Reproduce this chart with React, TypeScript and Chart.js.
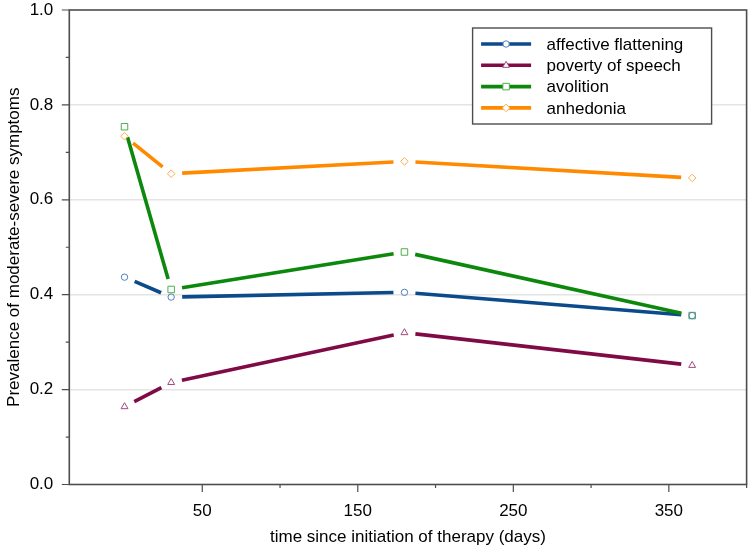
import React, { useEffect, useRef } from "react";
import { Chart, registerables } from "chart.js";
import { drawPoint } from "chart.js/helpers";

Chart.register(...registerables);

// ---- data ----
const days = [0, 30, 180, 365];
const seriesNames = ["affective flattening", "poverty of speech", "avolition", "anhedonia"];
const affectiveFlattening = [0.437, 0.395, 0.405, 0.356];
const povertyOfSpeech = [0.164, 0.215, 0.32, 0.251];
const avolition = [0.754, 0.411, 0.49, 0.356];
const anhedonia = [0.734, 0.655, 0.681, 0.646];
const xTickValues = [50, 150, 250, 350];
const xMinorTickValues = [100, 200, 300, 400];
const yTickValues = [0, 0.2, 0.4, 0.6, 0.8, 1.0];
const yMinorTickValues = [0.1, 0.3, 0.5, 0.7, 0.9];
const xTitle = "time since initiation of therapy (days)";
const yTitle = "Prevalence of moderate-severe symptoms";

// ---- styles ----
const lineColors = ["#0b4a8b", "#7f0a45", "#0c890c", "#ff8a00"];
const markerColors = ["#4f7fbd", "#a04a7c", "#4caf4c", "#ffab4a"];
const pointStyles = ["circle", "triangle", "rect", "rectRot"];
const pointRadii = [3.2, 4, 4.6, 3.8];
const FONT = "'Liberation Sans', Arial, sans-serif";
const GAP = 11;
const LINE_W = 3.6;
const FRAME = "#4d4d4d";

const seriesValues = [affectiveFlattening, povertyOfSpeech, avolition, anhedonia];

const framePlugin = {
  id: "framePlugin",
  beforeDatasetsDraw(chart: any) {
    const ctx = chart.ctx;
    const a = chart.chartArea;
    ctx.save();
    ctx.beginPath();
    ctx.rect(a.left, a.top, a.right - a.left, a.bottom - a.top);
    ctx.clip();
    ctx.lineWidth = LINE_W;
    ctx.lineCap = "butt";
    chart.data.datasets.forEach((_ds: any, i: number) => {
      const pts = chart.getDatasetMeta(i).data;
      ctx.strokeStyle = lineColors[i];
      for (let k = 0; k < pts.length - 1; k++) {
        const p = pts[k];
        const q = pts[k + 1];
        const dx = q.x - p.x;
        const dy = q.y - p.y;
        const d = Math.hypot(dx, dy);
        if (d <= 2 * GAP) continue;
        const ux = dx / d;
        const uy = dy / d;
        ctx.beginPath();
        ctx.moveTo(p.x + ux * GAP, p.y + uy * GAP);
        ctx.lineTo(q.x - ux * GAP, q.y - uy * GAP);
        ctx.stroke();
      }
    });
    ctx.restore();
  },
  afterDraw(chart: any) {
    const ctx = chart.ctx;
    const a = chart.chartArea;
    const xs = chart.scales.x;
    const ys = chart.scales.y;
    ctx.save();
    // frame
    ctx.strokeStyle = FRAME;
    ctx.lineWidth = 1.6;
    ctx.strokeRect(a.left, a.top, a.right - a.left, a.bottom - a.top);
    // ticks
    ctx.lineWidth = 1.2;
    ctx.beginPath();
    xTickValues.forEach((v) => {
      const x = xs.getPixelForValue(v);
      ctx.moveTo(x, a.bottom);
      ctx.lineTo(x, a.bottom + 7.5);
    });
    xMinorTickValues.forEach((v) => {
      const x = xs.getPixelForValue(v);
      ctx.moveTo(x, a.bottom);
      ctx.lineTo(x, a.bottom + 3.5);
    });
    yTickValues.forEach((v) => {
      const y = ys.getPixelForValue(v);
      ctx.moveTo(a.left, y);
      ctx.lineTo(a.left - 7.5, y);
    });
    yMinorTickValues.forEach((v) => {
      const y = ys.getPixelForValue(v);
      ctx.moveTo(a.left, y);
      ctx.lineTo(a.left - 3.5, y);
    });
    ctx.stroke();

    // legend
    const bw = 239;
    const bh = 96;
    const bx = a.right - 35 - bw;
    const by = a.top + 18;
    ctx.fillStyle = "#ffffff";
    ctx.fillRect(bx, by, bw, bh);
    ctx.strokeStyle = FRAME;
    ctx.lineWidth = 1.4;
    ctx.strokeRect(bx, by, bw, bh);
    ctx.font = `17px ${FONT}`;
    ctx.textBaseline = "middle";
    ctx.textAlign = "left";
    seriesNames.forEach((name, i) => {
      const cy = by + 16 + i * 21.3;
      const x0 = bx + 8.5;
      const x1 = x0 + 50;
      ctx.strokeStyle = lineColors[i];
      ctx.lineWidth = LINE_W;
      ctx.lineCap = "butt";
      ctx.beginPath();
      ctx.moveTo(x0, cy);
      ctx.lineTo(x1, cy);
      ctx.stroke();
      ctx.fillStyle = "#ffffff";
      ctx.strokeStyle = markerColors[i];
      ctx.lineWidth = 1;
      drawPoint(ctx, { pointStyle: pointStyles[i], radius: pointRadii[i], rotation: 0, borderWidth: 1 } as any, (x0 + x1) / 2, cy);
      ctx.fillStyle = "#000000";
      ctx.fillText(name, bx + 74, cy + 1);
    });
    ctx.restore();
  },
};

export default function App() {
  const ref = useRef<HTMLCanvasElement | null>(null);
  useEffect(() => {
    if (!ref.current) return;
    const chart = new Chart(ref.current, {
      type: "line",
      data: {
        datasets: seriesNames.map((name, i) => ({
          label: name,
          data: days.map((d, k) => ({ x: d, y: seriesValues[i][k] })),
          showLine: false,
          pointStyle: pointStyles[i] as any,
          pointRadius: pointRadii[i],
          pointBorderWidth: 1,
          pointBorderColor: markerColors[i],
          pointBackgroundColor: "rgba(0,0,0,0)",
          borderColor: lineColors[i],
        })),
      },
      options: {
        responsive: false,
        animation: false,
        devicePixelRatio: 1,
        layout: { autoPadding: false, padding: { left: 0, right: 3.4, top: 10, bottom: 0 } },
        plugins: { legend: { display: false }, tooltip: { enabled: false } },
        scales: {
          x: {
            type: "linear",
            min: -35.5,
            max: 400,
            afterBuildTicks: (s: any) => {
              s.ticks = xTickValues.map((v) => ({ value: v }));
            },
            afterFit: (s: any) => {
              s.height = 61.5;
              s.paddingLeft = 0;
              s.paddingRight = 0;
            },
            grid: { display: false, drawTicks: false },
            border: { display: false },
            ticks: {
              color: "#000",
              font: { family: FONT, size: 17 },
              padding: 17,
              maxRotation: 0,
              autoSkip: false,
              callback: (v: any) => String(v),
            },
            title: {
              display: true,
              text: xTitle,
              color: "#000",
              font: { family: FONT, size: 17, lineHeight: 1 },
              padding: { top: 0, bottom: 0 },
            },
          },
          y: {
            min: 0,
            max: 1,
            afterBuildTicks: (s: any) => {
              s.ticks = yTickValues.map((v) => ({ value: v }));
            },
            afterFit: (s: any) => {
              s.width = 69.3;
              s.paddingTop = 0;
              s.paddingBottom = 0;
            },
            grid: {
              color: (c: any) =>
                c.tick && (c.tick.value === 0 || c.tick.value === 1) ? "rgba(0,0,0,0)" : "#e4e4e4",
              lineWidth: 1.6,
              drawTicks: false,
            },
            border: { display: false },
            ticks: {
              color: "#000",
              font: { family: FONT, size: 17 },
              padding: 16,
              callback: (v: any) => Number(v).toFixed(1),
            },
            title: {
              display: true,
              text: yTitle,
              color: "#000",
              font: { family: FONT, size: 17, lineHeight: 1 },
              padding: { top: 5.5, bottom: 0 },
            },
          },
        },
      },
      plugins: [framePlugin],
    });
    return () => chart.destroy();
  }, []);
  return (
    <div style={{ position: "absolute", left: 0, top: 0, width: 750, height: 546, background: "#fff" }}>
      <canvas ref={ref} width={750} height={546} />
    </div>
  );
}
